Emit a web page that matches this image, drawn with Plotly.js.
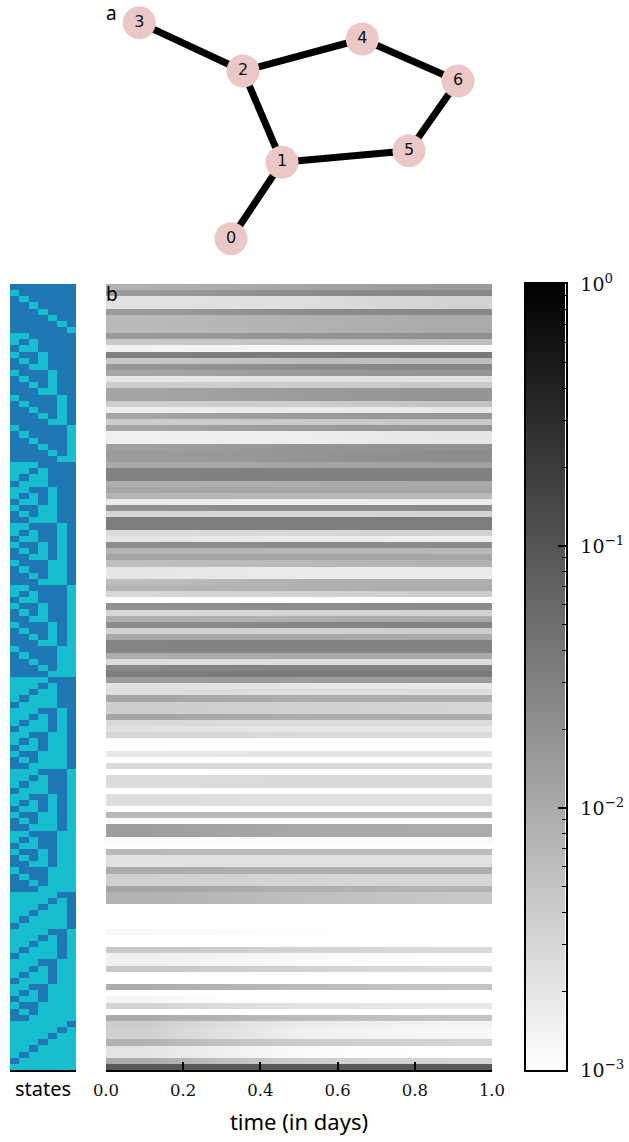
<!DOCTYPE html>
<html>
<head>
<meta charset="utf-8">
<script src="https://cdn.plot.ly/plotly-3.0.1.min.js"></script>
<style>html,body{margin:0;padding:0;background:#fff}</style>
</head>
<body>
<div id="chart" style="width:629px;height:1142px"></div>
<script>
// Network (panel a)
const nodeIds = ['0','1','2','3','4','5','6'];
const nodeX = [231,282,243,139.3,362.3,409,458];
const nodeY = [238.7,162.3,71,22.7,39,150.7,81];
const edgeFrom = [0,1,1,2,2,4,5];
const edgeTo   = [1,2,5,3,4,6,6];

// Network states (panel b, left strip): one string per state, node 0 first
const states = [
'0000000',
'1000000','0100000','0010000','0001000','0000100','0000010','0000001',
'1100000','1010000','0110000','1001000','0101000','0011000','1000100','0100100','0010100','0001100',
'1000010','0100010','0010010','0001010','0000110','1000001','0100001','0010001','0001001','0000101','0000011',
'1110000','1101000','1011000','0111000','1100100','1010100','0110100','1001100','0101100','0011100',
'1100010','1010010','0110010','1001010','0101010','0011010','1000110','0100110','0010110','0001110',
'1100001','1010001','0110001','1001001','0101001','0011001','1000101','0100101','0010101','0001101','1000011','0100011','0010011','0001011','0000111',
'1111000','1110100','1101100','1011100','0111100',
'1110010','1101010','1011010','0111010','1100110','1010110','0110110','1001110','0101110','0011110',
'1110001','1101001','1011001','0111001','1100101','1010101','0110101','1001101','0101101','0011101',
'1100011','1010011','0110011','1001011','0101011','0011011','1000111','0100111','0010111','0001111',
'1111100','1111010','1110110','1101110','1011110','0111110',
'1111001','1110101','1101101','1011101','0111101','1110011','1101011','1011011','0111011','1100111','1010111','0110111','1001111','0101111','0011111',
'1111110','1111101','1111011','1110111','1101111','1011111','0111111',
'1111111'];

// Times at which the row shades were read (days)
const readTimes = [0.1,0.3,0.5,0.7,0.9];

// -log10(probability) of each state at each read time; 3 means at or below 10^-3
const minusLogP_t1 = [
2.09,1.82,2.65,2.65,1.82,2.18,2.18,2.18,
1.82,2.35,2.85,1.51,2.35,1.76,1.94,2.71,
2.41,1.94,1.94,2.41,2.80,1.94,2.41,1.94,
2.82,2.82,1.88,1.82,1.82,2.00,1.53,1.53,
2.06,1.94,2.12,2.76,1.71,2.53,1.47,1.47,
2.59,2.68,1.65,2.09,1.94,2.24,2.71,2.71,
2.24,2.12,2.53,3,1.71,2.53,2.06,1.65,
2.47,2.00,1.55,1.55,2.02,2.59,1.59,1.47,
1.82,2.65,2.61,1.94,2.41,2.41,1.94,2.56,
2.65,2.53,3,3,2.73,3,2.56,3,
2.59,2.59,3,2.61,2.61,3,2.18,2.94,
1.86,1.86,2.94,3,2.18,2.65,2.65,2.02,
2.45,2.45,1.94,2.09,2.09,3,3,3,
3,2.92,3,3,2.35,2.82,2.82,2.35,
3,3,2.02,3,2.88,2.49,3,2.00,
2.41,2.45,2.45,2.09,2.68,2.68,2.00,1.04];
const minusLogP_t2 = [
2.02,1.74,2.64,2.64,1.74,2.14,2.14,2.14,
1.79,2.33,2.88,1.47,2.29,1.71,1.88,2.69,
2.41,1.88,1.88,2.41,2.78,1.88,2.39,1.88,
2.81,2.81,1.82,1.79,1.79,1.98,1.52,1.52,
2.05,1.94,2.14,2.78,1.67,2.53,1.47,1.47,
2.56,2.73,1.64,2.11,1.94,2.21,2.74,2.74,
2.16,2.09,2.49,3,1.67,2.52,2.06,1.62,
2.47,2.00,1.54,1.54,2.01,2.60,1.55,1.45,
1.82,2.67,2.61,1.98,2.42,2.42,1.98,2.56,
2.68,2.54,3,3,2.71,3,2.56,3,
2.58,2.58,3,2.62,2.62,3,2.18,2.95,
1.92,1.92,2.94,3,2.19,2.65,2.65,2.04,
2.47,2.47,2.00,2.16,2.16,3,3,3,
3,2.95,3,3,2.41,2.88,2.88,2.41,
3,3,2.12,3,2.99,2.59,3,2.09,
2.61,2.65,2.65,2.29,2.82,2.82,2.24,1.04];
const minusLogP_t3 = [
1.94,1.65,2.61,2.61,1.65,2.09,2.09,2.09,
1.74,2.29,2.91,1.44,2.24,1.65,1.82,2.68,
2.41,1.82,1.82,2.41,2.76,1.82,2.38,1.82,
2.80,2.80,1.76,1.74,1.74,1.94,1.51,1.51,
2.02,1.94,2.18,2.80,1.65,2.53,1.47,1.47,
2.53,2.76,1.62,2.12,1.94,2.18,2.76,2.76,
2.09,2.06,2.47,3,1.65,2.49,2.06,1.59,
2.47,2.00,1.53,1.53,2.00,2.61,1.53,1.44,
1.82,2.71,2.61,2.02,2.45,2.45,2.02,2.56,
2.71,2.56,3,3,2.68,3,2.56,3,
2.56,2.56,3,2.65,2.65,3,2.18,2.96,
1.98,1.98,2.94,3,2.21,2.65,2.65,2.06,
2.49,2.49,2.06,2.24,2.24,3,3,3,
3,2.99,3,3,2.47,2.94,2.94,2.47,
3,3,2.21,3,3,2.67,3,2.21,
2.76,2.82,2.82,2.39,2.94,2.94,2.41,1.04];
const minusLogP_t4 = [
1.88,1.61,2.54,2.54,1.61,2.05,2.05,2.05,
1.71,2.26,2.92,1.42,2.24,1.61,1.78,2.66,
2.38,1.78,1.78,2.35,2.74,1.79,2.36,1.79,
2.75,2.75,1.73,1.69,1.69,1.91,1.51,1.51,
2.01,1.94,2.18,2.78,1.65,2.51,1.47,1.47,
2.49,2.78,1.62,2.14,1.94,2.13,2.76,2.76,
2.07,2.04,2.44,3,1.64,2.48,2.02,1.55,
2.44,2.00,1.53,1.53,2.00,2.61,1.53,1.44,
1.82,2.72,2.61,2.02,2.47,2.47,2.02,2.56,
2.71,2.56,3,3,2.68,3,2.56,3,
2.56,2.56,3,2.65,2.65,3,2.18,2.96,
1.99,1.99,2.94,3,2.21,2.65,2.65,2.06,
2.52,2.52,2.09,2.29,2.29,3,3,3,
3,3,3,3,2.52,2.96,2.96,2.52,
3,3,2.26,3,3,2.71,3,2.26,
2.82,2.88,2.88,2.45,2.99,2.99,2.47,1.04];
const minusLogP_t5 = [
1.82,1.59,2.47,2.47,1.59,2.00,2.00,2.00,
1.67,2.24,2.92,1.41,2.24,1.59,1.74,2.65,
2.35,1.74,1.74,2.29,2.73,1.76,2.35,1.76,
2.71,2.71,1.71,1.65,1.65,1.88,1.51,1.51,
2.00,1.94,2.18,2.76,1.65,2.49,1.47,1.47,
2.47,2.80,1.62,2.15,1.94,2.09,2.76,2.76,
2.06,2.02,2.41,3,1.62,2.47,2.00,1.53,
2.41,2.00,1.53,1.53,2.00,2.61,1.53,1.44,
1.82,2.73,2.61,2.02,2.49,2.49,2.02,2.56,
2.71,2.56,3,3,2.68,3,2.56,3,
2.56,2.56,3,2.65,2.65,3,2.18,2.96,
2.00,2.00,2.94,3,2.21,2.65,2.65,2.06,
2.53,2.53,2.12,2.35,2.35,3,3,3,
3,3,3,3,2.56,2.98,2.98,2.56,
3,3,2.29,3,3,2.73,3,2.29,
2.86,2.92,2.92,2.49,3,3,2.49,1.04];

// Colour bar: decades shown and axis ticks
const colorbarLevels = [-3,-2,-1,0];
const timeTicks = [0,0.2,0.4,0.6,0.8,1.0];
const timeTickLabels = ['0.0','0.2','0.4','0.6','0.8','1.0'];
const probTicks = [1,0.1,0.01,0.001];
const probTickLabels = ['10<sup>0</sup>','10<sup>\u22121</sup>','10<sup>\u22122</sup>','10<sup>\u22123</sup>'];
const probMinorTicks = [0.9,0.8,0.7,0.6,0.5,0.4,0.3,0.2,0.09,0.08,0.07,0.06,0.05,0.04,0.03,0.02,0.009,0.008,0.007,0.006,0.005,0.004,0.003,0.002];

// Page geometry in pixels
const W = 629, H = 1142;
const fx = p => p / W;
const fy = p => 1 - p / H;
const panelTop = 284, panelBottom = 1070;
const SANS = '"Noto Sans", sans-serif';
const SERIF = '"DejaVu Serif", serif';
const black = '#000';
const greys = [[0,'#ffffff'],[1,'#000000']];

// Build traces
const stateRows = states.map(s => s.split('').map(Number));
const columns = [minusLogP_t1, minusLogP_t2, minusLogP_t3, minusLogP_t4, minusLogP_t5];

// Each state is given an upper and a lower row edge, so the library's smoothing
// blends shades along time only and the state rows stay crisp.
const edgeInset = 0.49;
const zRows = [], yRows = [];
states.forEach((_, r) => {
  const row = columns.map(c => -c[r]);
  zRows.push(row, row);
  yRows.push(r - edgeInset, r + edgeInset);
});

const edgeXs = [], edgeYs = [];
edgeFrom.forEach((a, k) => {
  const b = edgeTo[k];
  edgeXs.push(nodeX[a], nodeX[b], null);
  edgeYs.push(nodeY[a], nodeY[b], null);
});

const traces = [
  {type:'heatmap', z:stateRows, xaxis:'x', yaxis:'y', zmin:0, zmax:1, showscale:false,
   colorscale:[[0,'#1f77b4'],[1,'#17becf']], hoverinfo:'skip'},
  {type:'heatmap', z:zRows, x:readTimes, y:yRows, xaxis:'x2', yaxis:'y2', zmin:-3, zmax:0, zsmooth:'best',
   colorscale:greys, showscale:false, hoverinfo:'skip'},
  {type:'scatter', mode:'lines', x:edgeXs, y:edgeYs, xaxis:'x3', yaxis:'y3',
   line:{color:black, width:7}, hoverinfo:'skip', cliponaxis:false},
  {type:'scatter', mode:'markers+text', x:nodeX, y:nodeY, text:nodeIds, textposition:'middle center',
   textfont:{family:'"DejaVu Sans", sans-serif', size:16, color:'#111'},
   marker:{size:33, color:'#ebc7c7', line:{width:0}}, xaxis:'x3', yaxis:'y3', hoverinfo:'skip', cliponaxis:false},
  {type:'heatmap', z:colorbarLevels.map(v => [v, v]), x:[0,1], y:colorbarLevels, xaxis:'x4', yaxis:'y4',
   zmin:-3, zmax:0, zsmooth:'best', colorscale:greys, showscale:false, hoverinfo:'skip'}
];

const domY = [fy(panelBottom), fy(panelTop)];
const layout = {
  width:W, height:H, margin:{l:0,r:0,t:0,b:0,pad:0,autoexpand:false},
  paper_bgcolor:'#fff', plot_bgcolor:'#fff', showlegend:false,
  font:{family:SANS, color:black},
  xaxis:{domain:[fx(10),fx(76)], range:[-0.5,6.5], anchor:'y', showticklabels:false, ticks:'',
    showgrid:false, zeroline:false, showline:true, linecolor:black, linewidth:2,
    title:{text:'states', font:{family:SANS, size:20}, standoff:11}},
  yaxis:{domain:domY, range:[127.5,-0.5], anchor:'x', visible:false},
  xaxis2:{domain:[fx(106),fx(492)], range:[0,1], anchor:'y2', tickmode:'array', tickvals:timeTicks, ticktext:timeTickLabels,
    ticks:'inside', ticklen:8, tickwidth:2, tickcolor:black, showgrid:false, zeroline:false,
    showline:true, linecolor:black, linewidth:2, ticklabelstandoff:4,
    tickfont:{family:SERIF, size:16.5, color:'#111'},
    title:{text:'time (in days)', font:{family:SANS, size:22}, standoff:16}},
  yaxis2:{domain:domY, range:[127.5,-0.5], anchor:'x2', visible:false},
  xaxis3:{domain:[0,1], range:[0,W], anchor:'y3', visible:false},
  yaxis3:{domain:[fy(270),1], range:[270,0], anchor:'x3', visible:false},
  xaxis4:{domain:[fx(526),fx(565.5)], range:[0,1], anchor:'y4', showticklabels:false, ticks:'', showgrid:false,
    zeroline:false, showline:true, linecolor:black, linewidth:2, mirror:true},
  yaxis4:{domain:domY, range:[-3,0], anchor:'x4', side:'right', tickmode:'array',
    tickvals:probTicks.map(Math.log10), ticktext:probTickLabels, ticks:'inside', ticklen:8, tickwidth:2, tickcolor:black,
    minor:{tickmode:'array', tickvals:probMinorTicks.map(Math.log10), ticks:'inside', ticklen:4, tickwidth:1, tickcolor:black, showgrid:false},
    showgrid:false, zeroline:false, showline:true, linecolor:black, linewidth:2, mirror:true, ticklabelstandoff:9,
    tickfont:{family:SERIF, size:19, color:'#111'}},
  annotations:[
    {text:'a', xref:'paper', yref:'paper', x:fx(111), y:fy(13), xanchor:'center', yanchor:'middle', showarrow:false, font:{family:SANS, size:19, color:black}},
    {text:'b', xref:'paper', yref:'paper', x:fx(112), y:fy(294), xanchor:'center', yanchor:'middle', showarrow:false, font:{family:SANS, size:19, color:black}}
  ]
};

Plotly.newPlot('chart', traces, layout, {displayModeBar:false, staticPlot:true});
</script>
</body>
</html>
